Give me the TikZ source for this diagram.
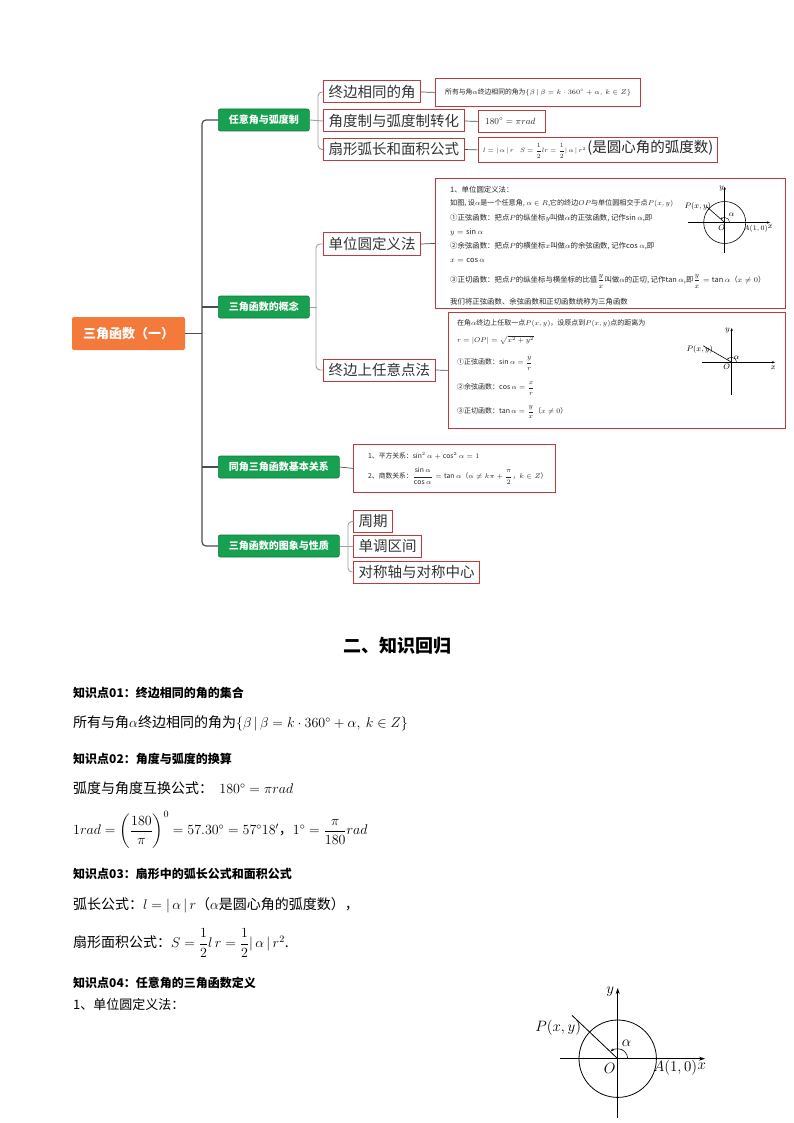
\RequirePackage{fix-cm}
\documentclass[tikz,border=0pt]{standalone}
\usepackage{amsmath}
\usepackage{fontspec}
\setmainfont{Noto Sans CJK SC}
\usetikzlibrary{arrows.meta}
\definecolor{orangeR}{HTML}{F47A3C}
\definecolor{greenN}{HTML}{17A04F}
\definecolor{greenD}{HTML}{0E7A3A}
\definecolor{redB}{HTML}{C0393B}
\definecolor{trunkC}{HTML}{4D4D4D}
\definecolor{brC}{HTML}{A0A0A0}
\tikzset{
  rootnode/.style={fill=orangeR, rounded corners=2pt, text=white, font=\fontsize{13}{14}\selectfont\bfseries, minimum width=113pt, minimum height=33pt, inner sep=0pt},
  gnode/.style={fill=greenN, draw=greenD, line width=0.6pt, rounded corners=2pt, text=white, font=\fontsize{10}{11}\selectfont\bfseries, minimum height=22pt, inner sep=0pt, anchor=west},
  subnode/.style={draw=redB, line width=1pt, fill=white, text=black!80, font=\fontsize{14.5}{16}\selectfont, minimum height=22pt, inner xsep=5pt, inner ysep=0pt, anchor=west},
  leafbox/.style={draw=redB, line width=0.8pt, anchor=north west, inner sep=0pt},
  txt/.style={anchor=west, inner sep=0pt, text=black!85},
  tinytxt/.style={txt, font=\fontsize{7}{8}\selectfont},
  unittxt/.style={txt, font=\fontsize{7.4}{8}\selectfont},
  bodytxt/.style={txt, text=black, font=\fontsize{14}{16}\selectfont},
  headtxt/.style={txt, text=black, font=\fontsize{12}{14}\selectfont\bfseries},
  trunk/.style={draw=trunkC, line width=1.2pt, rounded corners=4pt},
  brline/.style={draw=brC, line width=0.9pt, rounded corners=4pt},
  leafline/.style={draw=trunkC, line width=0.7pt},
  axis/.style={line width=0.6pt, -{Stealth[length=3pt,width=2.4pt]}},
  figlab/.style={inner sep=0pt, font=\fontsize{8}{9}\selectfont},
}
\begin{document}
\begin{tikzpicture}[x=1pt,y=-1pt]
\useasboundingbox (0,0) rectangle (794,1123);
\fill[white] (0,0) rectangle (794,1123);

% ---------- mind map ----------
\node[rootnode] (root) at (128.5,333.5) {三角函数（一）};
\coordinate (tk) at (202,0);
\node[gnode, minimum width=91pt] (g1) at (218,120) {任意角与弧度制};
\node[gnode, minimum width=91pt] (g2) at (218,307) {三角函数的概念};
\node[gnode, minimum width=121pt] (g3) at (218,467) {同角三角函数基本关系};
\node[gnode, minimum width=121pt] (g4) at (218,546) {三角函数的图象与性质};

\draw[trunk] (g1.west) -- ++(-16,0) |- (g4.west);
\draw[trunk] (g2.west) -- ++(-16,0);
\draw[trunk] (g3.west) -- ++(-16,0);
\draw[trunk] (root.east) -- (root.east -| tk);

% sub nodes
\node[subnode] (c11) at (323,92) {终边相同的角};
\node[subnode] (c12) at (323,121) {角度制与弧度制转化};
\node[subnode] (c13) at (323,149.5) {扇形弧长和面积公式};
\node[subnode] (c21) at (323,244) {单位圆定义法};
\node[subnode] (c22) at (323,370) {终边上任意点法};
\node[subnode] (c41) at (353,521.5) {周期};
\node[subnode] (c42) at (353,546) {单调区间};
\node[subnode] (c43) at (353,572) {对称轴与对称中心};

\draw[brline] (c11.west) -- ++(-5,0) |- (c13.west);
\draw[brline] (g1.east) -- (c12.west);
\draw[brline] (c21.west) -- ++(-7,0) |- (c22.west);
\draw[brline] (g2.east) -- ++(7,0);
\draw[brline] (c41.west) -- ++(-5,0) |- (c43.west);
\draw[brline] (g4.east) -- (c42.west);

% leaf boxes
\node[leafbox, minimum width=205pt, minimum height=28pt] (l11) at (435,78) {};
\node[leafbox, minimum width=67pt, minimum height=22pt] (l12) at (478,110) {};
\node[leafbox, minimum width=239pt, minimum height=25pt] (l13) at (478,137) {};
\node[leafbox, minimum width=350pt, minimum height=130pt] (l21) at (435,178) {};
\node[leafbox, minimum width=337pt, minimum height=116pt] (l22) at (448,312) {};
\node[leafbox, minimum width=202pt, minimum height=48pt] (l3) at (353,444) {};

\draw[leafline] (c11.east) -- (l11.west);
\draw[leafline] (c12.east) -- (l12.west);
\draw[leafline] (c13.east) -- (l13.west);
\draw[leafline] (c21.east) -- (l21.west);
\draw[leafline] (c22.east) -- (l22.west);
\draw[leafline] (g3.east) -- (l3.west);

% leaf texts
\node[txt, font=\fontsize{6.8}{8}\selectfont] (t11) at (445,92) {所有与角$\alpha$终边相同的角为$\left\{\beta\,|\,\beta=k\cdot360^\circ+\alpha,\ k\in Z\right\}$};
\node[txt, font=\fontsize{9}{10}\selectfont] (t12) at (485,121) {$180^\circ=\pi rad$};
\node[txt] (t13) at (483,149.5) {\fontsize{6.3}{7}\selectfont$l=|\,\alpha\,|\,r\quad S=\dfrac12 lr=\dfrac12|\,\alpha\,|\,r^2$\ \fontsize{14.5}{15}\selectfont(是圆心角的弧度数)};

\node[unittxt] (t21a) at (450,190) {1、单位圆定义法：};
\node[txt, font=\fontsize{7.1}{8}\selectfont] (t21b) at (450,203.5) {如图, 设$\alpha$是一个任意角, $\alpha\in R$,它的终边$OP$与单位圆相交于点$P(x,y)$};
\node[unittxt] (t21c) at (450,218) {①正弦函数：把点$P$的纵坐标$y$叫做$\alpha$的正弦函数, 记作$\sin\alpha$,即};
\node[unittxt] (t21d) at (450,232) {$y=\sin\alpha$};
\node[unittxt] (t21e) at (450,246) {②余弦函数：把点$P$的横坐标$x$叫做$\alpha$的余弦函数, 记作$\cos\alpha$,即};
\node[unittxt] (t21f) at (450,260) {$x=\cos\alpha$};
\node[unittxt] (t21g) at (450,281) {③正切函数：把点$P$的纵坐标与横坐标的比值$\dfrac{y}{x}$叫做$\alpha$的正切, 记作$\tan\alpha$,即$\dfrac{y}{x}=\tan\alpha$（$x\neq0$）};
\node[unittxt] (t21h) at (450,302) {我们将正弦函数、余弦函数和正切函数统称为三角函数};

\node[tinytxt] (t22a) at (457,323.5) {在角$\alpha$终边上任取一点$P(x,y)$，设原点到$P(x,y)$点的距离为};
\node[tinytxt] (t22b) at (457,340) {$r=|OP|=\sqrt{x^2+y^2}$};
\node[tinytxt] (t22c) at (457,363.5) {①正弦函数：$\sin\alpha=\dfrac{y}{r}$};
\node[tinytxt] (t22d) at (457,388.5) {②余弦函数：$\cos\alpha=\dfrac{x}{r}$};
\node[tinytxt] (t22e) at (457,412) {③正切函数：$\tan\alpha=\dfrac{y}{x}$（$x\neq0$）};

\node[txt, font=\fontsize{6.8}{8}\selectfont] (t3a) at (368,456) {1、平方关系：$\sin^2\alpha+\cos^2\alpha=1$};
\node[txt, font=\fontsize{6.8}{8}\selectfont] (t3b) at (368,476) {2、商数关系：$\dfrac{\sin\alpha}{\cos\alpha}=\tan\alpha$（$\alpha\neq k\pi+\dfrac{\pi}{2}$，$k\in Z$）};

% small figure in l21
\begin{scope}[shift={(724.7,222.5)}, y=1pt]
  \coordinate (oa) at (0,0);
  \draw[axis] (-36.7,0) -- (45.3,0);
  \draw[axis] (0,-30.5) -- (0,35.8);
  \draw[line width=0.6pt] (oa) circle[radius=21];
  \draw[line width=0.6pt] (oa) -- (138.7:24);
  \draw[line width=0.4pt, -{Stealth[length=2pt]}] (5,0) arc (0:136:5);
  \node[figlab] (ya) at (-3,33.5) {$y$};
  \node[figlab] (xa) at (45.5,-4.5) {$x$};
  \node[figlab] (oal) at (-3,-5.5) {$O$};
  \node[figlab, font=\fontsize{7}{8}\selectfont] (aa) at (31,-6.5) {$A(1,0)$};
  \node[figlab] (pa) at (-27,15.5) {$P(x,y)$};
  \node[figlab] (ala) at (7,7.5) {$\alpha$};
\end{scope}

% small figure in l22
\begin{scope}[shift={(731.7,362.3)}, y=1pt]
  \coordinate (ob) at (0,0);
  \draw[axis] (-30,0) -- (43.3,0);
  \draw[axis] (0,-32.7) -- (0,34.3);
  \draw[line width=0.6pt] (ob) -- (150:33);
  \draw[line width=0.4pt, -{Stealth[length=2pt]}] (5,0) arc (0:148:5);
  \node[figlab] (yb) at (-4,32) {$y$};
  \node[figlab] (xb) at (41.5,-5.5) {$x$};
  \node[figlab] (obl) at (-5,-4.5) {$O$};
  \node[figlab] (pb) at (-32,12.5) {$P(x,y)$};
  \node[figlab] (alb) at (5,4.5) {$\alpha$};
\end{scope}

% ---------- lower part ----------
\node[inner sep=0pt, font=\fontsize{18}{20}\selectfont\bfseries] (title) at (397,646) {二、知识回归};

\node[headtxt] (h1) at (73,693) {知识点01：终边相同的角的集合};
\node[bodytxt] (b1) at (73,723) {所有与角$\alpha$终边相同的角为$\left\{\beta\,|\,\beta=k\cdot360^\circ+\alpha,\ k\in Z\right\}$};
\node[headtxt] (h2) at (73,759) {知识点02：角度与弧度的换算};
\node[bodytxt] (b2) at (73,788) {弧度与角度互换公式：\ \ $180^\circ=\pi rad$};
\node[bodytxt] (b3) at (73,830) {$1rad=\left(\dfrac{180}{\pi}\right)^{0}=57.30^\circ=57^\circ18'$，$1^\circ=\dfrac{\pi}{180}rad$};
\node[headtxt] (h3) at (73,874) {知识点03：扇形中的弧长公式和面积公式};
\node[bodytxt] (b4) at (73,905) {弧长公式：$l=|\,\alpha\,|\,r$（$\alpha$是圆心角的弧度数），};
\node[bodytxt] (b5) at (73,943) {扇形面积公式：$S=\dfrac12 l\,r=\dfrac12|\,\alpha\,|\,r^2$.};
\node[headtxt] (h4) at (73,983) {知识点04：任意角的三角函数定义};
\node[txt, text=black, font=\fontsize{13}{15}\selectfont] (b6) at (73,1005) {1、单位圆定义法：};

% big unit circle figure
\begin{scope}[shift={(617.7,1058.7)}, y=1pt]
  \coordinate (oc) at (0,0);
  \draw[line width=0.8pt, -{Stealth[length=6pt,width=4pt]}] (-57.7,0) -- (87.3,0);
  \draw[line width=0.8pt, -{Stealth[length=6pt,width=4pt]}] (0,-59.3) -- (0,70.7);
  \draw[line width=0.8pt] (oc) circle[radius=38.7];
  \draw[line width=0.8pt] (oc) -- (136.5:63);
  \draw[line width=0.6pt, -{Stealth[length=3.5pt]}] (10,0) arc (0:134:10);
  \node[inner sep=0pt, font=\fontsize{15}{16}\selectfont] (yc) at (-7.5,67) {$y$};
  \node[inner sep=0pt, font=\fontsize{15}{16}\selectfont] (xc) at (84,-8) {$x$};
  \node[inner sep=0pt, font=\fontsize{15}{16}\selectfont] (ocl) at (-8,-9.5) {$O$};
  \node[inner sep=0pt, font=\fontsize{15}{16}\selectfont] (ac) at (57.5,-9.5) {$A(1,0)$};
  \node[inner sep=0pt, font=\fontsize{15}{16}\selectfont] (pc) at (-59.5,30.5) {$P(x,y)$};
  \node[inner sep=0pt, font=\fontsize{15}{16}\selectfont] (alc) at (9,15.5) {$\alpha$};
\end{scope}
\end{tikzpicture}
\end{document}
